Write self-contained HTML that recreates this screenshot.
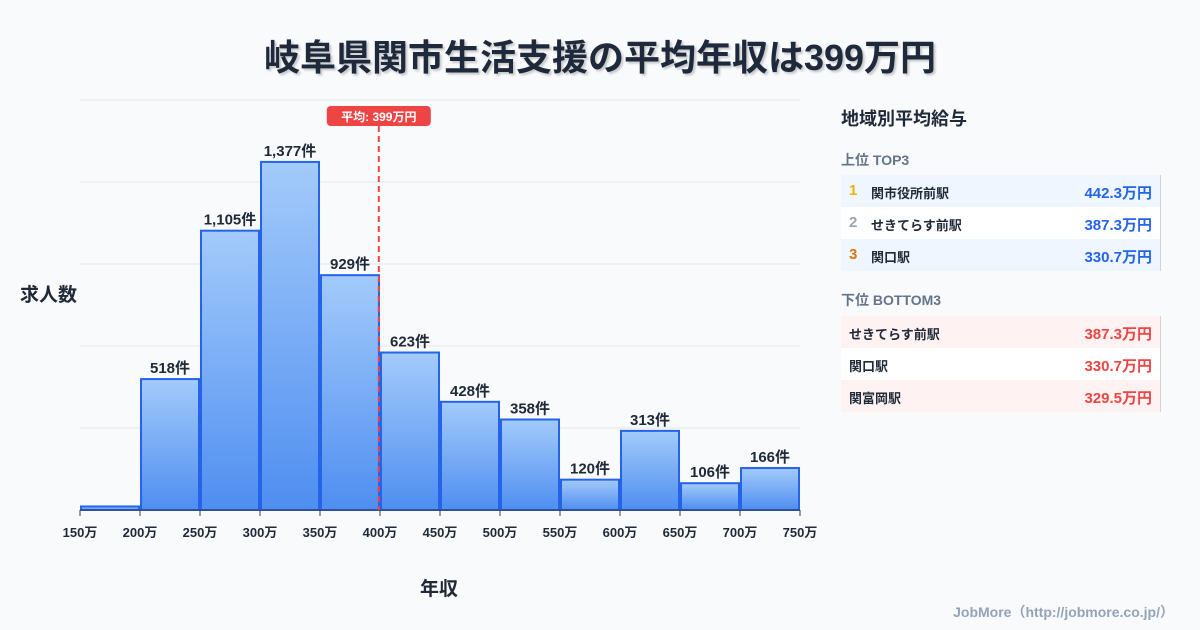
<!DOCTYPE html>
<html><head><meta charset="utf-8"><style>
body{margin:0;width:1200px;height:630px;background:#f8fafc;font-family:"Liberation Sans","Noto Sans CJK JP",sans-serif;overflow:hidden;position:relative}
.t{position:absolute}
.row{position:absolute;left:841px;width:319px;height:32px;border-right:1px solid #d1d5db;font-size:13px;font-weight:bold;color:#1f2937}
.row span{position:absolute;top:8px}
.v{right:8px;font-size:15px;top:7px!important}
</style></head><body>
<div class="t" style="left:0;width:1200px;top:29px;text-align:center;font-size:36px;font-weight:bold;color:#1e293b;text-shadow:2px 2px 2px rgba(0,0,0,0.2)">岐阜県関市生活支援の平均年収は399万円</div>
<svg id="c" width="1200" height="630" style="position:absolute;left:0;top:0"></svg>
<div class="t" style="left:20px;top:280px;font-size:19px;font-weight:bold;color:#1f2937">求人数</div>
<div class="t" style="left:420px;top:574px;font-size:19px;font-weight:bold;color:#1f2937">年収</div>
<div class="t" style="left:841px;top:105px;font-size:18px;font-weight:bold;color:#1f2937">地域別平均給与</div>
<div class="t" style="left:841px;top:150px;font-size:14px;font-weight:bold;color:#64748b">上位 TOP3</div>
<div class="row" style="top:175px;background:#eff6ff"><span style="left:8px;color:#eab308;font-size:15px;top:7px">1</span><span style="left:30px">関市役所前駅</span><span class="v" style="color:#2563eb">442.3万円</span></div>
<div class="row" style="top:207px;background:#fff"><span style="left:8px;color:#9ca3af;font-size:15px;top:7px">2</span><span style="left:30px">せきてらす前駅</span><span class="v" style="color:#2563eb">387.3万円</span></div>
<div class="row" style="top:239px;background:#eff6ff"><span style="left:8px;color:#d97706;font-size:15px;top:7px">3</span><span style="left:30px">関口駅</span><span class="v" style="color:#2563eb">330.7万円</span></div>
<div class="t" style="left:841px;top:290px;font-size:14px;font-weight:bold;color:#64748b">下位 BOTTOM3</div>
<div class="row" style="top:316px;background:#fef2f2"><span style="left:8px">せきてらす前駅</span><span class="v" style="color:#ef4444">387.3万円</span></div>
<div class="row" style="top:348px;background:#fff"><span style="left:8px">関口駅</span><span class="v" style="color:#ef4444">330.7万円</span></div>
<div class="row" style="top:380px;background:#fef2f2"><span style="left:8px">関富岡駅</span><span class="v" style="color:#ef4444">329.5万円</span></div>
<div class="t" style="right:26px;top:602px;font-size:14px;font-weight:bold;color:#94a3b8">JobMore（http://jobmore.co.jp/）</div>
<script>
const binStarts=[150,200,250,300,350,400,450,500,550,600,650,700];
const counts=[14,518,1105,1377,929,623,428,358,120,313,106,166];
const tickLabels=[150,200,250,300,350,400,450,500,550,600,650,700,750];
const avgValue=399;
const NS="http://www.w3.org/2000/svg";
const svg=document.getElementById('c');
const x=v=>80+(v-150)*1.2;
const y=v=>510-v*(410/1622);
function el(t,a){const e=document.createElementNS(NS,t);for(const k in a)e.setAttribute(k,a[k]);svg.appendChild(e);return e;}
const defs=el('defs',{});
defs.innerHTML='<linearGradient id="g" x1="0" y1="0" x2="0" y2="1"><stop offset="0" stop-color="#a3cbfb"/><stop offset="1" stop-color="#4f8ef0"/></linearGradient>';
for(let i=0;i<=5;i++){const g=el('line',{x1:80,x2:800,y1:510-i*82,y2:510-i*82,stroke:'#e5e7eb'});

}
binStarts.forEach((b,i)=>{
const r=el('rect',{x:x(b)+1,y:y(counts[i]),width:x(b+50)-x(b)-2,height:510-y(counts[i]),fill:'url(#g)',stroke:'#2563eb','stroke-width':2});


if(counts[i]>50){const t=el('text',{x:(x(b)+x(b+50))/2,y:y(counts[i])-6,'text-anchor':'middle','font-size':15,'font-weight':'bold',fill:'#1f2937'});
t.textContent=counts[i].toLocaleString()+'件';

}
});
el('line',{x1:80,x2:800,y1:510,y2:510,stroke:'#374151'});
tickLabels.forEach(v=>{el('line',{x1:x(v),x2:x(v),y1:510,y2:516,stroke:'#374151'});
const t=el('text',{x:x(v),y:537,'text-anchor':'middle','font-size':13,'font-weight':'bold',fill:'#1f2937'});
t.textContent=v+'万';

});
const ax=x(avgValue);
const al=el('line',{x1:ax,x2:ax,y1:126,y2:510,stroke:'#ef4444','stroke-width':2,'stroke-dasharray':'6,4'});


el('rect',{x:ax-52,y:106,width:104,height:20,rx:4,fill:'#ef4444'});
const at=el('text',{x:ax,y:121,'text-anchor':'middle','font-size':12,'font-weight':'bold',fill:'#fff'});
at.textContent='平均: '+avgValue+'万円';


</script>
</body></html>
